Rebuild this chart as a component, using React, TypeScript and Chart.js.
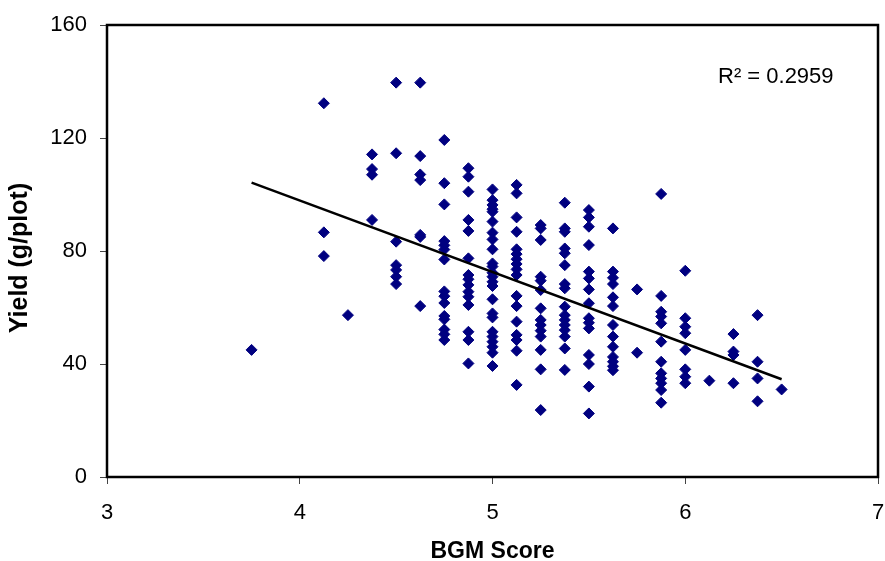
import { useEffect, useRef } from "react";
import { Chart, registerables } from "chart.js";

Chart.register(...registerables);

// BGM score columns and the yields read at each score
const bgmScores = [3.75, 4.125, 4.25, 4.375, 4.5, 4.625, 4.75, 4.875, 5.0, 5.125, 5.25, 5.375, 5.5, 5.625, 5.75, 5.875, 6.0, 6.125, 6.25, 6.375, 6.5];
const yieldsByScore: number[][] = [
  [45],
  [132.3, 86.6, 78.2],
  [57.3],
  [114.2, 109, 107, 91],
  [139.6, 114.6, 83.3, 75, 73.3, 70.9, 68.3],
  [139.6, 113.6, 107.1, 105.1, 85.7, 85, 60.5],
  [119.3, 104, 96.5, 83.5, 82, 80.5, 77, 65.7, 64, 61.6, 57, 55.8, 52.2, 50.5, 48.5],
  [109.3, 106.3, 101, 91, 87.1, 77.4, 71.5, 70, 68, 65.6, 63.8, 60.9, 51.4, 48.5, 40.2],
  [101.8, 98, 96.3, 94.8, 93.9, 90.4, 86.5, 84.1, 80.6, 75.6, 74.5, 72.3, 70.9, 69.1, 67.6, 62.9, 57.9, 56.5, 51.4, 49.7, 47.9, 46.1, 44, 39.3],
  [103.4, 100.4, 91.9, 86.8, 80.6, 78.9, 77.1, 75.4, 73.5, 71.5, 64.1, 60.5, 55, 50.3, 48.5, 44.7, 32.6],
  [89.2, 88, 83.9, 70.9, 69.5, 66.2, 59.7, 55.6, 53.8, 51.8, 49.7, 45, 38.1, 23.7],
  [97.1, 88, 86.8, 80.9, 79.2, 75, 68.3, 66.8, 60.3, 57.3, 55.6, 53.8, 52, 49.7, 45.5, 37.9],
  [94.5, 91.9, 88.6, 82.1, 72.7, 70.3, 66.4, 61.5, 56.2, 54.6, 52.6, 43.2, 40, 32, 22.5],
  [88, 72.7, 70.5, 68.3, 63.6, 60.5, 53.8, 49.7, 46.1, 42.5, 40.8, 39.2, 37.8],
  [66.4, 44],
  [100.2, 64.1, 58.5, 56.8, 54.4, 47.9, 40.8, 36.7, 34.9, 33.2, 30.8, 26.3],
  [73, 56.2, 53.2, 50.9, 45, 38.1, 35.5, 33.2],
  [34.1],
  [50.6, 44.4, 43.2, 33.2],
  [57.3, 40.8, 34.9, 26.8],
  [31],
];

// Linear trend line end points (as drawn)
const trendX = [3.75, 6.5];
const trendY = [104.2, 34.6];

const xTicks = [3, 4, 5, 6, 7];
const yTicks = [0, 40, 80, 120, 160];
const rSquaredLabel = "R² = 0.2959";
const xTitle = "BGM Score";
const yTitle = "Yield (g/plot)";

const FONT = "'Liberation Sans', Arial, Helvetica, sans-serif";

export default function App() {
  const ref = useRef<HTMLCanvasElement | null>(null);

  useEffect(() => {
    document.body.style.margin = "0";
    const canvas = ref.current;
    if (!canvas) return;

    const points: { x: number; y: number }[] = [];
    bgmScores.forEach((s, i) => {
      yieldsByScore[i].forEach((v) => points.push({ x: s, y: v }));
    });
    const trend = trendX.map((x, i) => ({ x, y: trendY[i] }));

    const framePlugin = {
      id: "frameAndLabel",
      afterDraw(chart: any) {
        const { ctx, chartArea } = chart;
        ctx.save();
        ctx.strokeStyle = "#000";
        ctx.lineWidth = 2.5;
        ctx.strokeRect(chartArea.left, chartArea.top, chartArea.right - chartArea.left, chartArea.bottom - chartArea.top);
        ctx.fillStyle = "#000";
        ctx.font = `22px ${FONT}`;
        ctx.textAlign = "left";
        ctx.textBaseline = "alphabetic";
        ctx.fillText(rSquaredLabel, chartArea.right - 160, chartArea.top + 58);
        // y axis title
        ctx.save();
        ctx.font = `bold 25px ${FONT}`;
        ctx.textAlign = "center";
        ctx.textBaseline = "middle";
        ctx.translate(20, (chartArea.top + chartArea.bottom) / 2 + 7);
        ctx.rotate(-Math.PI / 2);
        ctx.fillText(yTitle, 0, 0);
        ctx.restore();
        // x axis title
        ctx.font = `bold 23px ${FONT}`;
        ctx.textAlign = "center";
        ctx.textBaseline = "middle";
        ctx.fillText(xTitle, (chartArea.left + chartArea.right) / 2, 552);
        ctx.restore();
      },
    };

    const chart = new Chart(canvas, {
      type: "scatter",
      data: {
        datasets: [
          {
            label: "Yield",
            data: points,
            pointStyle: "rectRot",
            pointRadius: 5.5,
            pointBorderWidth: 1,
            backgroundColor: "#000080",
            borderColor: "#000080",
            showLine: false,
            order: 2,
          },
          {
            label: "Trend",
            type: "line",
            data: trend,
            borderColor: "#000",
            borderWidth: 2.5,
            pointRadius: 0,
            fill: false,
            order: 1,
          },
        ],
      },
      options: {
        animation: false,
        responsive: false,
        maintainAspectRatio: false,
        layout: { padding: { left: 0, right: 7, top: 25, bottom: 0 } },
        plugins: {
          legend: { display: false },
          tooltip: { enabled: false },
          title: { display: false },
        },
        scales: {
          x: {
            type: "linear",
            min: 3,
            max: 7,
            afterBuildTicks: (scale: any) => {
              scale.ticks = xTicks.map((v) => ({ value: v }));
            },
            afterFit: (scale: any) => {
              scale.height = 84;
              scale.paddingLeft = 0;
              scale.paddingRight = 0;
            },
            grid: { drawOnChartArea: false, drawTicks: true, tickLength: 7, tickColor: "#444", lineWidth: 1 },
            border: { display: false },
            ticks: { color: "#000", font: { family: FONT, size: 22 }, padding: 16, maxRotation: 0 },
          },
          y: {
            type: "linear",
            min: 0,
            max: 160,
            afterBuildTicks: (scale: any) => {
              scale.ticks = yTicks.map((v) => ({ value: v }));
            },
            afterFit: (scale: any) => {
              scale.width = 107;
              scale.paddingTop = 0;
              scale.paddingBottom = 0;
            },
            grid: { drawOnChartArea: false, drawTicks: true, tickLength: 7, tickColor: "#444", lineWidth: 1 },
            border: { display: false },
            ticks: { color: "#000", font: { family: FONT, size: 22 }, padding: 13 },
          },
        },
      },
      plugins: [framePlugin],
    });

    return () => chart.destroy();
  }, []);

  return (
    <div style={{ width: 885, height: 561 }}>
      <canvas ref={ref} width={885} height={561} style={{ display: "block", width: 885, height: 561 }} />
    </div>
  );
}
